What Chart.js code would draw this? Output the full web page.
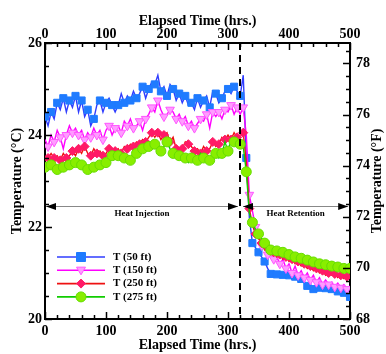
<!DOCTYPE html>
<html>
<head>
<meta charset="utf-8">
<title>Temperature vs Elapsed Time</title>
<script src="https://cdn.jsdelivr.net/npm/chart.js@4.4.1/dist/chart.umd.min.js"></script>
<style>
  html, body { margin: 0; padding: 0; background: #fff; }
  #wrap { width: 386px; height: 354px; }
</style>
</head>
<body>
<div id="wrap"><canvas id="tempChart"></canvas></div>
<script>
// Elapsed time (hrs.)
const hours = [
  0, 5, 10, 15, 20, 25, 30, 35, 40, 45,
  50, 55, 60, 65, 70, 75, 80, 85, 90, 95,
  100, 105, 110, 115, 120, 125, 130, 135, 140, 145,
  150, 155, 160, 165, 170, 175, 180, 185, 190, 195,
  200, 205, 210, 215, 220, 225, 230, 235, 240, 245,
  250, 255, 260, 265, 270, 275, 280, 285, 290, 295,
  300, 305, 310, 315, 320, 325, 330, 335, 340, 345,
  350, 355, 360, 365, 370, 375, 380, 385, 390, 395,
  400, 405, 410, 415, 420, 425, 430, 435, 440, 445,
  450, 455, 460, 465, 470, 475, 480, 485, 490, 495,
  500
];

// Temperatures (°C)
const t50 = [
  24.4, 24.2, 24.5, 24.35, 24.7, 24.55, 24.8, 24.5, 24.75, 24.6,
  24.85, 24.5, 24.75, 24.4, 24.55, 24.2, 24.35, 24.65, 24.75, 24.5,
  24.7, 24.8, 24.65, 24.5, 24.65, 24.9, 24.7, 24.85, 24.75, 24.95,
  24.8, 24.9, 25.05, 24.8, 25.0, 25.15, 25.1, 25.3, 24.95, 25.05,
  24.85, 25.1, 25.0, 24.75, 24.9, 24.7, 24.85, 24.65, 24.7, 24.55,
  24.8, 24.6, 24.75, 24.85, 24.6, 24.95, 24.9, 24.7, 24.8, 24.95,
  25.0, 24.9, 25.05, 24.95, 24.85, 25.3, 23.5, 22.2, 21.65, 21.55,
  21.45, 21.35, 21.25, 21.1, 20.98, 20.95, 20.97, 20.94, 20.96, 20.92,
  20.95, 20.88, 20.92, 20.85, 20.87, 20.8, 20.72, 20.75, 20.65, 20.6,
  20.68, 20.62, 20.67, 20.6, 20.65, 20.58, 20.6, 20.55, 20.57, 20.5,
  20.48
];
const t150 = [
  23.9, 23.75, 24.0, 23.85, 24.1, 23.95, 23.7, 24.0, 24.2, 24.05,
  24.15, 24.0, 24.1, 23.9, 24.05, 23.95, 24.15, 24.0, 24.1, 23.9,
  24.1, 24.2, 24.0, 24.15, 24.2, 24.05, 24.3, 24.2, 24.35, 24.15,
  24.2, 24.3, 24.1, 24.35, 24.45, 24.6, 24.5, 24.75, 24.55, 24.4,
  24.45, 24.55, 24.5, 24.35, 24.45, 24.3, 24.4, 24.2, 24.3, 24.15,
  24.25, 24.35, 24.3, 24.45, 24.15, 24.5, 24.4, 24.5, 24.35, 24.55,
  24.5, 24.65, 24.45, 24.6, 24.45, 24.6, 24.0, 22.7, 22.35, 22.0,
  21.8, 21.6, 21.55, 21.4, 21.45, 21.3, 21.35, 21.2, 21.3, 21.1,
  21.2, 21.0, 21.15, 20.95, 21.05, 20.9, 21.0, 20.85, 20.95, 20.8,
  20.9, 20.75, 20.85, 20.75, 20.8, 20.7, 20.78, 20.68, 20.75, 20.65,
  20.72
];
const t250 = [
  23.45, 23.5, 23.6, 23.5, 23.55, 23.45, 23.6, 23.5, 23.55, 23.65,
  23.55, 23.7, 23.6, 23.75, 23.6, 23.55, 23.7, 23.6, 23.65, 23.55,
  23.6, 23.7, 23.6, 23.65, 23.7, 23.6, 23.75, 23.7, 23.8, 23.75,
  23.85, 23.8, 23.9, 23.85, 23.95, 24.05, 23.95, 24.05, 23.9, 24.0,
  24.05, 23.85, 23.95, 23.7, 23.55, 23.7, 23.85, 23.8, 23.75, 23.65,
  23.7, 23.6, 23.75, 23.65, 23.7, 23.85, 23.75, 23.8, 23.95, 23.9,
  24.0, 23.9, 24.05, 23.95, 24.0, 24.05, 23.4, 22.4, 22.05, 21.85,
  21.75, 21.65, 21.5, 21.55, 21.4, 21.45, 21.35, 21.4, 21.3, 21.35,
  21.25, 21.3, 21.2, 21.25, 21.15, 21.2, 21.1, 21.15, 21.05, 21.1,
  21.0, 21.05, 20.95, 21.0, 20.95, 20.98, 20.9, 20.95, 20.88, 20.92,
  20.9
];
const t275 = [
  23.3, 23.25, 23.35, 23.3, 23.25, 23.35, 23.3, 23.4, 23.35, 23.3,
  23.4, 23.45, 23.35, 23.3, 23.25, 23.35, 23.3, 23.4, 23.35, 23.45,
  23.4, 23.5, 23.55, 23.5, 23.55, 23.6, 23.5, 23.55, 23.45, 23.55,
  23.6, 23.65, 23.7, 23.65, 23.75, 23.7, 23.8, 23.75, 23.65, 23.75,
  23.85, 23.7, 23.6, 23.5, 23.55, 23.45, 23.5, 23.4, 23.5, 23.55,
  23.45, 23.6, 23.5, 23.55, 23.45, 23.55, 23.6, 23.5, 23.6, 23.85,
  23.65, 23.9, 23.85, 23.9, 23.8, 23.75, 23.2, 22.3, 22.1, 21.95,
  21.85, 21.75, 21.65, 21.55, 21.5, 21.5, 21.48, 21.5, 21.45, 21.42,
  21.4, 21.38, 21.35, 21.33, 21.32, 21.3, 21.28, 21.25, 21.24, 21.22,
  21.2, 21.2, 21.18, 21.17, 21.15, 21.14, 21.13, 21.12, 21.1, 21.1,
  21.1
];

// Tick labels
const hourTicks = [0, 100, 200, 300, 400, 500];
const celsiusTicks = [20, 22, 24, 26];
const fahrenheitTicks = [68, 70, 72, 74, 76, 78];

// Injection stops / retention starts
const switchHour = 320;
const phaseLabels = ['Heat Injection', 'Heat Retention'];

const serif = 'Liberation Serif, Times New Roman, serif';
const axisFont = { family: serif, size: 14, weight: 'bold' };

function toPoints(values) {
    return hours.map((h, i) => ({ x: h, y: values[i] }));
}

function series(label, values, line, fill, border, style, radius, rotation, offset, order) {
    return {
        label: label,
        data: toPoints(values),
        borderColor: line,
        borderWidth: 1.4,
        backgroundColor: fill,
        pointStyle: style,
        pointRotation: rotation,
        pointBackgroundColor: fill,
        pointBorderColor: border,
        pointBorderWidth: 1,
        pointRadius: ctx => (ctx.dataIndex % 2 === offset ? radius : 0),
        tension: 0,
        order: order
    };
}

const datasets = [
    series('T (50 ft)', t50, '#2f3dff', '#1f7bff', '#1f7bff', 'rect', 5, 0, 0, 3),
    series('T (150 ft)', t150, '#ff00ff', '#ff9cff', '#ff55ff', 'triangle', 5, 180, 1, 2),
    series('T (250 ft)', t250, '#ee1111', '#ff1a66', '#ff1a66', 'rectRot', 4.5, 0, 1, 1),
    series('T (275 ft)', t275, '#11cc00', '#88ee00', '#66dd00', 'circle', 5, 0, 0, 0)
];

// small marker painter for the legend
function drawMarker(ctx, ds, x, y, r) {
    ctx.fillStyle = ds.pointBackgroundColor;
    ctx.strokeStyle = ds.pointBorderColor;
    ctx.lineWidth = 1;
    ctx.beginPath();
    if (ds.pointStyle === 'rect') {
        ctx.rect(x - r, y - r, 2 * r, 2 * r);
    } else if (ds.pointStyle === 'triangle') {
        ctx.moveTo(x - r, y - r * 0.7);
        ctx.lineTo(x + r, y - r * 0.7);
        ctx.lineTo(x, y + r);
        ctx.closePath();
    } else if (ds.pointStyle === 'rectRot') {
        ctx.moveTo(x, y - r);
        ctx.lineTo(x + r, y);
        ctx.lineTo(x, y + r);
        ctx.lineTo(x - r, y);
        ctx.closePath();
    } else {
        ctx.arc(x, y, r, 0, Math.PI * 2);
    }
    ctx.fill();
    ctx.stroke();
}

function arrowHead(ctx, x, y, dir) {
    ctx.beginPath();
    ctx.moveTo(x, y);
    ctx.lineTo(x - dir * 10, y - 3.5);
    ctx.lineTo(x - dir * 10, y + 3.5);
    ctx.closePath();
    ctx.fill();
}

const decorations = {
    id: 'decorations',
    afterDatasetsDraw(chart) {
        const { ctx, chartArea: a, scales } = chart;
        const xs = scales.x, ys = scales.y, ys2 = scales.y2;
        ctx.save();

        // inward tick marks
        ctx.strokeStyle = '#000';
        ctx.lineWidth = 1.5;
        ctx.beginPath();
        for (let v = 0; v <= 500; v += 20) {
            const px = Math.round(xs.getPixelForValue(v)) + 0.5;
            const len = v % 100 === 0 ? 7 : 4;
            ctx.moveTo(px, a.bottom); ctx.lineTo(px, a.bottom - len);
            ctx.moveTo(px, a.top); ctx.lineTo(px, a.top + len);
        }
        for (let v = 20; v <= 26; v += 0.5) {
            const py = Math.round(ys.getPixelForValue(v)) + 0.5;
            const len = v % 2 === 0 ? 7 : 4;
            ctx.moveTo(a.left, py); ctx.lineTo(a.left + len, py);
        }
        for (let v = 68; v <= 78.5; v += 0.5) {
            const py = Math.round(ys2.getPixelForValue(v)) + 0.5;
            const len = v % 2 === 0 ? 7 : 4;
            ctx.moveTo(a.right, py); ctx.lineTo(a.right - len, py);
        }
        ctx.stroke();

        // switch-over line
        const sx = Math.round(xs.getPixelForValue(switchHour));
        ctx.lineWidth = 2;
        ctx.setLineDash([7, 5]);
        ctx.beginPath();
        ctx.moveTo(sx, a.top);
        ctx.lineTo(sx, a.bottom);
        ctx.stroke();
        ctx.setLineDash([]);

        // phase arrows
        const ay = Math.round(ys.getPixelForValue(22.45)) + 0.5;
        const segs = [[xs.getPixelForValue(0) + 1, sx - 2], [sx + 3, xs.getPixelForValue(497)]];
        ctx.fillStyle = '#000';
        ctx.font = 'bold 9px ' + serif;
        ctx.textAlign = 'center';
        ctx.textBaseline = 'top';
        segs.forEach((s, i) => {
            ctx.strokeStyle = '#888';
            ctx.lineWidth = 1;
            ctx.beginPath();
            ctx.moveTo(s[0], ay);
            ctx.lineTo(s[1], ay);
            ctx.stroke();
            arrowHead(ctx, s[0], ay, -1);
            arrowHead(ctx, s[1], ay, 1);
            ctx.fillText(phaseLabels[i], (s[0] + s[1]) / 2, ay + 3);
        });

        // legend
        ctx.font = 'bold 11px ' + serif;
        ctx.textAlign = 'left';
        ctx.textBaseline = 'middle';
        chart.data.datasets.forEach((ds, i) => {
            const ly = 257 + i * 13.3;
            ctx.strokeStyle = ds.borderColor;
            ctx.lineWidth = 1.6;
            ctx.beginPath();
            ctx.moveTo(a.left + 12, ly);
            ctx.lineTo(a.left + 60, ly);
            ctx.stroke();
            drawMarker(ctx, ds, a.left + 36, ly, ds.pointStyle === 'circle' ? 5 : 4.5);
            ctx.fillStyle = '#000';
            ctx.fillText(ds.label, a.left + 68, ly);
        });

        // right axis title, reading bottom to top
        ctx.translate(377, (a.top + a.bottom) / 2);
        ctx.rotate(-Math.PI / 2);
        ctx.font = 'bold 14px ' + serif;
        ctx.textAlign = 'center';
        ctx.fillText('Temperature (°F)', 0, 0);
        ctx.restore();
    }
};

function hAxis(position, height, titlePadding, tickPadding) {
    return {
        type: 'linear',
        position: position,
        min: 0,
        max: 500,
        afterBuildTicks: s => { s.ticks = hourTicks.map(v => ({ value: v })); },
        afterFit: s => { s.height = height; },
        ticks: { font: axisFont, color: '#000', padding: tickPadding, maxRotation: 0 },
        grid: { display: false, drawTicks: false },
        border: { display: true, color: '#000', width: 2 },
        title: { display: true, text: 'Elapsed Time (hrs.)', font: axisFont, color: '#000', padding: titlePadding }
    };
}

new Chart(document.getElementById('tempChart'), {
    type: 'line',
    data: { datasets: datasets },
    options: {
        responsive: true,
        maintainAspectRatio: false,
        animation: false,
        layout: { padding: 0 },
        plugins: {
            legend: { display: false },
            tooltip: { enabled: false }
        },
        scales: {
            x: hAxis('bottom', 35, { top: 0, bottom: 0 }, 4),
            x2: hAxis('top', 43, { top: 13, bottom: 0 }, 0),
            y: {
                type: 'linear',
                position: 'left',
                min: 20,
                max: 26,
                afterBuildTicks: s => { s.ticks = celsiusTicks.map(v => ({ value: v })); },
                afterFit: s => { s.width = 45; },
                ticks: { font: axisFont, color: '#000', padding: 3 },
                grid: { display: false, drawTicks: false },
                border: { display: true, color: '#000', width: 2 },
                title: { display: true, text: 'Temperature (°C)', font: axisFont, color: '#000', padding: { top: 9, bottom: 0 } }
            },
            y2: {
                type: 'linear',
                position: 'right',
                min: 68,
                max: 78.8,
                afterBuildTicks: s => { s.ticks = fahrenheitTicks.map(v => ({ value: v })); },
                afterFit: s => { s.width = 36; },
                ticks: { font: axisFont, color: '#000', padding: 6 },
                grid: { display: false, drawTicks: false },
                border: { display: true, color: '#000', width: 2 }
            }
        }
    },
    plugins: [decorations]
});
</script>
</body>
</html>
